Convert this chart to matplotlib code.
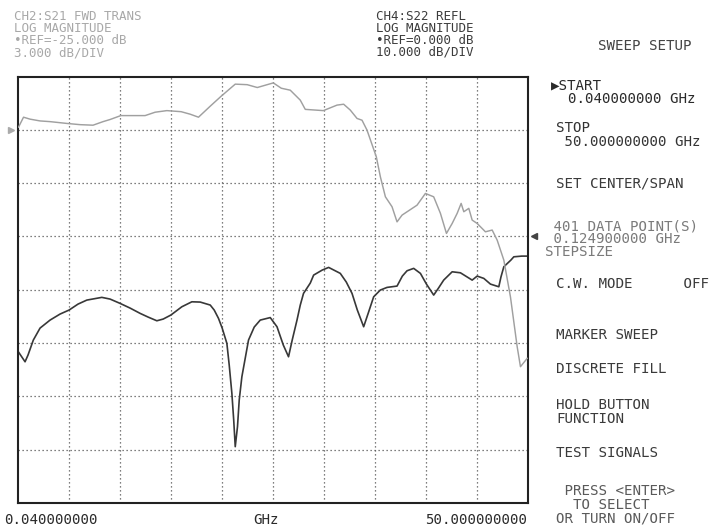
import matplotlib
matplotlib.use("Agg")
import matplotlib.pyplot as plt
import numpy as np

# ---- sweep data -------------------------------------------------------------
# CH2: S21 forward transmission (dB), 3 dB/div, ref -25 dB
s21_freq = [0.14, 0.63, 1.27, 2.25, 3.23, 4.86, 6.17, 7.44, 8.42, 9.11,
            10.16, 12.54, 13.52, 14.67, 16.07, 16.95, 17.77, 18.92, 19.99, 21.37,
            22.54, 23.53, 25.10, 25.88, 26.76, 27.74, 28.23, 30.00, 31.34, 31.99,
            32.64, 33.30, 33.79, 34.28, 35.19, 35.59, 36.08, 36.73, 37.22, 37.71,
            39.18, 40.00, 40.81, 41.47, 42.06, 42.62, 43.11, 43.50, 43.76, 44.25,
            44.58, 45.07, 45.88, 46.54, 47.03, 47.68, 48.33, 48.99, 49.31, 49.97]
s21_db = [-24.85, -24.29, -24.40, -24.50, -24.54, -24.64, -24.71, -24.74, -24.54, -24.42,
          -24.20, -24.20, -24.01, -23.92, -23.98, -24.12, -24.29, -23.67, -23.11, -22.43,
          -22.46, -22.62, -22.36, -22.66, -22.77, -23.33, -23.85, -23.92, -23.61, -23.56,
          -23.89, -24.36, -24.46, -25.02, -26.52, -27.65, -28.77, -29.33, -30.18, -29.80,
          -29.24, -28.58, -28.77, -29.70, -30.83, -30.27, -29.70, -29.14, -29.61, -29.42,
          -30.08, -30.27, -30.74, -30.64, -31.21, -32.33, -34.40, -37.21, -38.33, -37.86]

# CH4: S22 reflection (dB), 10 dB/div, ref 0 dB
s22_freq = [0.12, 0.78, 1.07, 1.59, 2.25, 3.23, 4.21, 5.09, 5.97, 6.83,
            8.30, 9.11, 10.09, 11.07, 12.05, 12.84, 13.69, 14.31, 15.06, 15.58,
            16.14, 17.12, 17.94, 18.92, 19.31, 19.73, 20.09, 20.55, 20.78, 21.04,
            21.22, 21.37, 21.59, 21.76, 22.02, 22.67, 23.23, 23.82, 24.80, 25.46,
            26.08, 26.59, 26.95, 27.42, 27.74, 28.06, 28.72, 29.05, 29.89, 30.52,
            31.66, 32.25, 32.81, 33.33, 33.95, 34.40, 34.93, 35.58, 36.24, 37.22,
            37.74, 38.20, 38.85, 39.51, 40.10, 40.81, 41.28, 41.79, 42.62, 43.43,
            44.58, 45.07, 45.72, 46.37, 47.19, 47.40, 47.68, 48.37, 48.66, 49.44,
            49.97]
s22_db = [-21.63, -23.51, -22.25, -19.44, -17.19, -15.69, -14.56, -13.81, -12.69, -11.94,
          -11.43, -11.75, -12.56, -13.44, -14.43, -15.13, -15.82, -15.50, -14.75, -14.00,
          -13.19, -12.26, -12.31, -12.87, -13.81, -15.37, -17.19, -20.06, -24.13, -29.43,
          -34.44, -39.44, -35.69, -30.69, -26.32, -19.44, -17.00, -15.69, -15.22, -16.94,
          -20.38, -22.57, -19.44, -15.69, -12.88, -10.68, -8.75, -7.25, -6.31, -5.81,
          -6.93, -8.56, -10.68, -13.81, -16.94, -14.38, -11.32, -10.06, -9.56, -9.31,
          -7.44, -6.44, -5.99, -6.93, -8.94, -11.00, -9.69, -8.19, -6.63, -6.82,
          -8.19, -7.44, -7.87, -8.94, -9.44, -7.60, -5.69, -4.44, -3.82, -3.69,
          -3.69]

f_start, f_stop = 0.04, 50.0
n_xdiv, n_ydiv = 10, 8

ch2_ref, ch2_scale, ch2_refpos = -25.0, 3.0, 7
ch4_ref, ch4_scale, ch4_refpos = 0.0, 10.0, 5

W, H = 728, 531
fig = plt.figure(figsize=(W / 100, H / 100), dpi=100)
fig.patch.set_facecolor("white")

MONO = ["DejaVu Sans Mono", "DejaVu Sans"]


def px(x, y):
    return x / W, 1 - y / H


# ---- graticule ---------------------------------------------------------------
left, right, top, bottom = 17.5, 527.5, 76.5, 503.0
ax = fig.add_axes([left / W, 1 - bottom / H, (right - left) / W, (bottom - top) / H])
ax.set_xlim(f_start, f_stop)
ax.set_ylim(ch4_ref - ch4_refpos * ch4_scale,
            ch4_ref + (n_ydiv - ch4_refpos) * ch4_scale)
ax.set_xticks(np.linspace(f_start, f_stop, n_xdiv + 1)[1:-1])
ax.set_yticks(np.arange(ax.get_ylim()[0] + ch4_scale, ax.get_ylim()[1], ch4_scale))
ax.tick_params(length=0, labelbottom=False, labelleft=False)
ax.grid(True, color="#555555", linestyle=(0, (1, 2.2)), linewidth=0.9)
for s in ax.spines.values():
    s.set_color("#222222")
    s.set_linewidth(1.5)

ax2 = ax.twinx()
ax2.set_ylim(ch2_ref - ch2_refpos * ch2_scale,
             ch2_ref + (n_ydiv - ch2_refpos) * ch2_scale)
ax2.set_yticks([])
for s in ax2.spines.values():
    s.set_visible(False)

# traces
ax2.plot(s21_freq, s21_db, color="#a0a0a0", linewidth=1.05)
ax.plot(s22_freq, s22_db, color="#383838", linewidth=1.2)

# reference position markers
ax2.plot([-0.012], [ch2_ref], marker=">", color="#aaaaaa", markersize=4,
         transform=ax2.get_yaxis_transform(), clip_on=False)
ax.plot([1.012], [ch4_ref], marker="<", color="#444444", markersize=4,
        transform=ax.get_yaxis_transform(), clip_on=False)

# ---- channel headers ---------------------------------------------------------
HEAD_FS = 9.0
ch2_lines = ["CH2:S21 FWD TRANS", "LOG MAGNITUDE",
             f"\u2022REF=-{abs(ch2_ref):.3f} dB", f"{ch2_scale:.3f} dB/DIV"]
ch4_lines = ["CH4:S22 REFL", "LOG MAGNITUDE",
             f"\u2022REF={ch4_ref:.3f} dB", f"{ch4_scale:.3f} dB/DIV"]
fig.text(*px(14, 10), "\n".join(ch2_lines), family=MONO, fontsize=HEAD_FS,
         color="#a8a8a8", va="top", ha="left", linespacing=0.92)
fig.text(*px(376, 10), "\n".join(ch4_lines), family=MONO, fontsize=HEAD_FS,
         color="#3c3c3c", va="top", ha="left", linespacing=0.88)

# ---- soft-key menu -----------------------------------------------------------
MENU_FS = 10.2
# (lines, x of left edge, y of first line's centre, colour, line spacing)
menu = [
    (["SWEEP SETUP"], 598, 45, "#444444", 1.0),
    (["\u25b6START", "  0.040000000 GHz"], 551, 84, "#2a2a2a", 1.0),
    (["STOP", " 50.000000000 GHz"], 556, 127, "#333333", 1.0),
    (["SET CENTER/SPAN"], 556, 183, "#3a3a3a", 1.0),
    ([" 401 DATA POINT(S)", " 0.124900000 GHz", "STEPSIZE"], 545, 226,
     "#7a7a7a", 0.86),
    (["C.W. MODE      OFF"], 556, 283, "#3a3a3a", 1.0),
    (["MARKER SWEEP"], 556, 334, "#3a3a3a", 1.0),
    (["DISCRETE FILL"], 556, 368, "#3a3a3a", 1.0),
    (["HOLD BUTTON", "FUNCTION"], 556, 404, "#3a3a3a", 1.0),
    (["TEST SIGNALS"], 556, 452, "#3a3a3a", 1.0),
    ([" PRESS <ENTER>", "  TO SELECT", "OR TURN ON/OFF"], 556, 490,
     "#5a5a5a", 0.98),
]
for lines, x, y, c, ls in menu:
    fig.text(*px(x, y - 6.0), "\n".join(lines), family=MONO, fontsize=MENU_FS,
             color=c, va="top", ha="left", linespacing=ls)

# ---- frequency annotation ----------------------------------------------------
fig.text(*px(4, 520), f"{f_start:.9f}", family=MONO, fontsize=MENU_FS,
         color="#2a2a2a", va="center", ha="left")
fig.text(*px(266, 520), "GHz", family=MONO, fontsize=MENU_FS,
         color="#2a2a2a", va="center", ha="center")
fig.text(*px(527, 520), f"{f_stop:.9f}", family=MONO, fontsize=MENU_FS,
         color="#2a2a2a", va="center", ha="right")

fig.savefig("out.png", dpi=100, facecolor="white")
